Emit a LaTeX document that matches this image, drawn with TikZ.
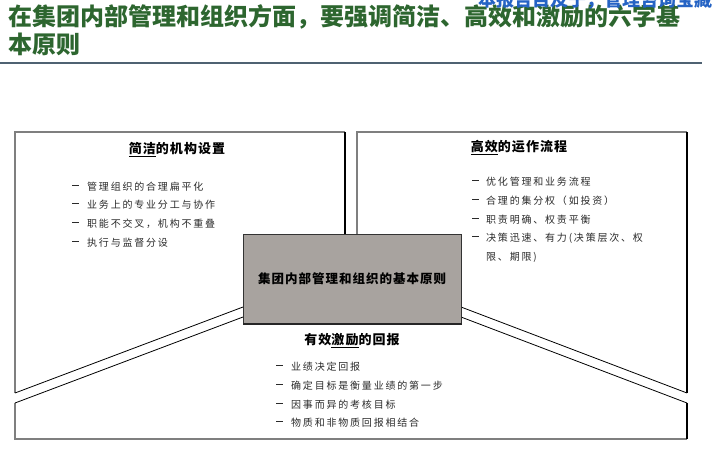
\documentclass[tikz,border=0pt]{standalone}
\usepackage{fontspec}
\newfontfamily\cjk{Noto Sans CJK SC}
\newfontfamily\cjkls[LetterSpace=18]{Noto Sans CJK SC}
\newfontfamily\cjkhd[LetterSpace=8]{Noto Sans CJK SC}
\definecolor{titlegreen}{HTML}{2D662F}
\definecolor{wmblue}{HTML}{2563C4}
\definecolor{edgegray}{HTML}{7F7F7F}
\definecolor{corefill}{HTML}{A8A39F}
\definecolor{rulecol}{HTML}{4F6272}
\definecolor{itemcol}{HTML}{2A2A2A}
\tikzset{
  itemtxt/.style={anchor=west, inner sep=0pt, font=\cjkls\fontsize{10}{12}\selectfont, text=itemcol},
  dashtxt/.style={anchor=west, inner sep=0pt, font=\fontsize{10}{12}\selectfont, text=itemcol},
  headtxt/.style={inner sep=0pt, font=\cjkhd\bfseries\fontsize{13}{15}\selectfont},
  grayedge/.style={draw=edgegray, line width=1.3pt},
  darkedge/.style={draw=black, line width=1.1pt},
  diag/.style={draw=black, line width=0.8pt},
}
\newcommand{\itemdash}{\rule[3.2pt]{6.5pt}{0.5pt}}
\begin{document}
\begin{tikzpicture}[x=1pt,y=-1pt]
\useasboundingbox (0,0) rectangle (714,466);
% title
\node[anchor=north west, align=left, inner sep=0pt, font=\cjk\bfseries\fontsize{24}{28}\selectfont, text=titlegreen] (title) at (8,4) {在集团内部管理和组织方面，要强调简洁、高效和激励的六字基\\本原则};
% watermark (clipped by page top)
\node[anchor=west, inner sep=0pt, font=\cjk\bfseries\fontsize{18}{20}\selectfont, text=wmblue] (wm) at (478,0) {本报告目及于，管理咨询宝藏};
\coordinate (r1) at (0,63); \coordinate (r2) at (702,63);
\draw[rulecol, line width=1.2pt] (r1) -- (r2);
% box coordinates
\coordinate (L1) at (15,132); \coordinate (L2) at (345,132); \coordinate (L3) at (345,234);
\coordinate (L4) at (15,393); \coordinate (L5) at (243,307);
\coordinate (R1) at (357,132); \coordinate (R2) at (687,132); \coordinate (R3) at (357,234);
\coordinate (R4) at (687,393); \coordinate (R5) at (461,307);
\coordinate (B1) at (15,403); \coordinate (B2) at (15,439); \coordinate (B3) at (687,439);
\coordinate (B4) at (687,403); \coordinate (B5) at (243,317); \coordinate (B6) at (461,317);
% left box
\draw[grayedge] (L4) -- (L1) -- (L2);
\draw[darkedge] (L2) -- (L3);
\draw[diag] (L4) -- (L5);
% right box
\draw[grayedge] (R3) -- (R1) -- (R2);
\draw[darkedge] (R2) -- (R4);
\draw[diag] (R4) -- (R5);
% bottom box
\draw[grayedge] (B1) -- (B2) -- (B3);
\draw[darkedge] (B3) -- (B4);
\draw[diag] (B5) -- (B1);
\draw[diag] (B4) -- (B6);
% core box
\node[draw=black!80, fill=corefill, line width=0.8pt, minimum width=218pt, minimum height=89pt, anchor=north west, inner sep=0pt] (core) at (243,234) {};
\draw[black!85, line width=1.4pt] (core.south west) -- (core.south east);
\node[inner sep=0pt, font=\cjkhd\bfseries\fontsize{12.5}{14}\selectfont] (coretxt) at (352,279) {集团内部管理和组织的基本原则};
% headings
\node[headtxt] (hl) at (177,150) {\underline{简洁}的机构设置};
\node[headtxt] (hr) at (519,148) {\underline{高效}的运作流程};
\node[headtxt] (hb) at (352,341) {有效\underline{激励}的回报};
% left items
\node[dashtxt] (ld1) at (72,187) {\itemdash}; \node[itemtxt] (li1) at (87,187) {管理组织的合理扁平化};
\node[dashtxt] (ld2) at (72,205) {\itemdash}; \node[itemtxt] (li2) at (87,205) {业务上的专业分工与协作};
\node[dashtxt] (ld3) at (72,224) {\itemdash}; \node[itemtxt] (li3) at (87,224) {职能不交叉，机构不重叠};
\node[dashtxt] (ld4) at (72,243) {\itemdash}; \node[itemtxt] (li4) at (87,243) {执行与监督分设};
% right items
\node[dashtxt] (rd1) at (472,182) {\itemdash}; \node[itemtxt] (ri1) at (486,182) {优化管理和业务流程};
\node[dashtxt] (rd2) at (472,201) {\itemdash}; \node[itemtxt] (ri2) at (486,201) {合理的集分权（如投资）};
\node[dashtxt] (rd3) at (472,220) {\itemdash}; \node[itemtxt] (ri3) at (486,220) {职责明确、权责平衡};
\node[dashtxt] (rd4) at (472,238) {\itemdash}; \node[itemtxt] (ri4) at (486,238) {决策迅速、有力(决策层次、权};
\node[itemtxt] (ri5) at (486,257) {限、期限)};
% bottom items
\node[dashtxt] (bd1) at (276,367) {\itemdash}; \node[itemtxt] (bi1) at (291,367) {业绩决定回报};
\node[dashtxt] (bd2) at (276,386) {\itemdash}; \node[itemtxt] (bi2) at (291,386) {确定目标是衡量业绩的第一步};
\node[dashtxt] (bd3) at (276,405) {\itemdash}; \node[itemtxt] (bi3) at (291,405) {因事而异的考核目标};
\node[dashtxt] (bd4) at (276,423) {\itemdash}; \node[itemtxt] (bi4) at (291,423) {物质和非物质回报相结合};
\end{tikzpicture}
\end{document}
